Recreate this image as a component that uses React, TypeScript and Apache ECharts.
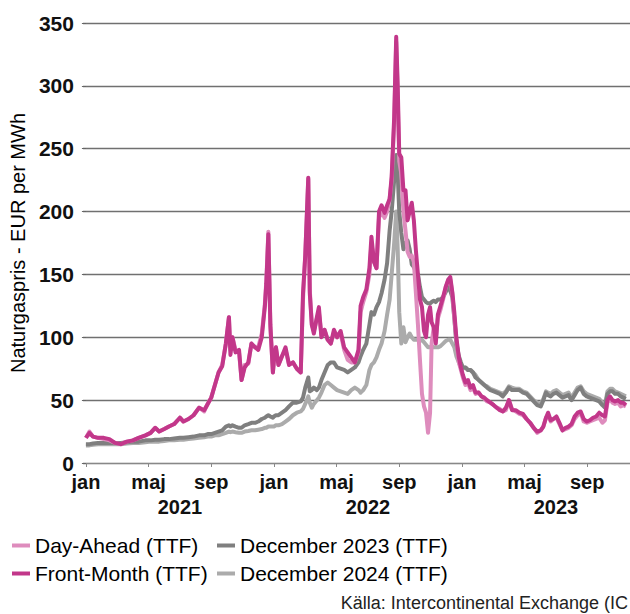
import React, { useEffect, useRef } from "react";
import * as echarts from "echarts";

// Observation dates (shared by all four series)
const dates: string[] = [
  // 2021
  "2021-01-01","2021-01-08","2021-01-15","2021-01-25","2021-02-05","2021-02-15","2021-02-25","2021-03-08","2021-03-20","2021-04-01",
  "2021-04-12","2021-04-25","2021-05-05","2021-05-14","2021-05-22","2021-06-01","2021-06-10","2021-06-20","2021-07-01","2021-07-08",
  "2021-07-18","2021-07-28","2021-08-08","2021-08-18","2021-08-25","2021-09-01","2021-09-08","2021-09-15","2021-09-22","2021-09-29",
  "2021-10-05","2021-10-08","2021-10-12","2021-10-18","2021-10-25","2021-10-30","2021-11-05","2021-11-12","2021-11-18","2021-11-25",
  "2021-12-01","2021-12-08","2021-12-14","2021-12-17","2021-12-21","2021-12-25","2021-12-30",
  // 2022
  "2022-01-01","2022-01-05","2022-01-10","2022-01-17","2022-01-24","2022-01-31","2022-02-07","2022-02-14","2022-02-21","2022-02-25",
  "2022-03-01","2022-03-07","2022-03-10","2022-03-14","2022-03-18","2022-03-24","2022-03-28","2022-04-02","2022-04-08","2022-04-14",
  "2022-04-20","2022-04-26","2022-05-02","2022-05-09","2022-05-16","2022-05-23","2022-05-30","2022-06-06","2022-06-13","2022-06-17",
  "2022-06-22","2022-06-28","2022-07-04","2022-07-08","2022-07-13","2022-07-18","2022-07-23","2022-07-28","2022-08-03","2022-08-08",
  "2022-08-13","2022-08-17","2022-08-22","2022-08-26","2022-08-29","2022-09-01","2022-09-05","2022-09-09","2022-09-13","2022-09-17",
  "2022-09-21","2022-09-25","2022-09-29","2022-10-03","2022-10-07","2022-10-11","2022-10-15","2022-10-19","2022-10-23","2022-10-27",
  "2022-10-31","2022-11-03","2022-11-07","2022-11-11","2022-11-15","2022-11-20","2022-11-25","2022-11-30","2022-12-05","2022-12-09",
  "2022-12-13","2022-12-17","2022-12-21","2022-12-26","2022-12-30",
  // 2023
  "2023-01-03","2023-01-08","2023-01-13","2023-01-18","2023-01-23","2023-01-28","2023-02-03","2023-02-08","2023-02-13","2023-02-18",
  "2023-02-24","2023-03-02","2023-03-08","2023-03-14","2023-03-20","2023-03-26","2023-04-01","2023-04-07","2023-04-14","2023-04-21",
  "2023-04-28","2023-05-05","2023-05-12","2023-05-19","2023-05-26","2023-06-02","2023-06-07","2023-06-12","2023-06-16","2023-06-21",
  "2023-06-26","2023-07-02","2023-07-08","2023-07-14","2023-07-20","2023-07-26","2023-08-01","2023-08-07","2023-08-13","2023-08-19",
  "2023-08-25","2023-08-31","2023-09-06","2023-09-12","2023-09-18","2023-09-24","2023-09-30","2023-10-05","2023-10-10","2023-10-15",
  "2023-10-20","2023-10-25","2023-10-31","2023-11-05","2023-11-10","2023-11-15",
];

// Front-Month (TTF)
const frontMonth: number[] = [
  20,24,21,20,20,19,16,15,17,18,
  20,22,24,28,25,27,29,31,36,33,
  35,38,44,42,47,52,62,72,77,95,
  116,86,100,88,90,66,76,80,95,92,
  90,100,124,143,182,110,72,
  82,92,78,85,92,78,80,75,72,135,
  165,227,135,110,103,116,124,100,106,98,
  95,106,100,105,92,88,84,80,90,125,
  132,138,155,180,160,155,200,205,199,205,
  210,228,275,339,300,246,243,217,217,193,
  200,207,193,169,150,130,124,105,100,118,
  124,112,108,95,118,125,132,140,146,148,
  136,120,100,84,76,
  70,64,66,60,62,56,56,53,52,50,
  48,46,44,42,41,44,50,42,42,40,
  39,35,32,28,25,26,29,36,40,34,
  35,37,32,26,28,29,31,37,40,41,
  35,33,34,36,37,40,38,37,50,53,
  50,49,50,48,48,46,
];

// Day-Ahead (TTF)
const dayAhead: number[] = [
  20,25,21,20,19,18,16,15,17,18,
  20,22,24,28,25,27,29,31,36,33,
  35,38,44,41,47,52,62,72,78,95,
  116,90,100,90,88,66,78,79,95,92,
  92,103,126,145,184,108,72,
  80,92,78,85,90,78,80,75,72,130,
  165,226,138,110,105,115,120,102,106,98,
  95,104,100,103,90,82,80,80,88,120,
  128,136,150,175,160,155,195,200,195,200,
  210,225,270,335,290,240,230,200,185,168,
  164,165,160,135,110,82,55,45,40,24,
  40,95,108,98,115,122,130,140,145,146,
  135,115,98,80,74,
  68,62,64,58,60,55,56,53,51,49,
  48,46,44,43,41,42,50,43,41,39,
  38,35,32,28,24,26,29,36,38,33,
  35,36,31,26,27,28,30,35,38,40,
  33,32,33,34,35,36,32,34,48,51,
  48,47,48,45,46,45,
];

// December 2023 (TTF)
const dec2023: number[] = [
  15,15,15.5,16,16,16,16,16,16.5,17,
  17,18,18,18.5,18.5,19,19,19.5,20,20,
  20.5,21,22,22,23,23,24,25,26,29,
  30,29,30,29,28,28,30,31,32,32,
  33,35,36,37,38,37,36,
  37,38,38,40,42,45,48,48,49,52,
  60,68,57,58,60,58,60,66,72,78,
  80,80,76,75,74,72,74,76,80,85,
  90,95,110,120,118,124,128,135,146,159,
  185,200,225,245,230,200,183,170,175,177,
  170,158,156,152,150,140,132,130,128,127,
  127,128,129,128,130,130,132,136,140,137,
  132,115,95,85,80,
  76,76,74,74,72,68,66,64,62,60,
  58,57,56,55,53,56,60,58,58,58,
  56,55,52,49,46,45,50,56,54,53,
  55,56,54,52,53,54,50,54,58,60,
  55,53,52,51,50,49,46,44,55,57,
  57,55,55,53,52,51,
];

// December 2024 (TTF)
const dec2024: number[] = [
  14,14,14.5,15,15,15,15,15,15.5,16,
  16,16.5,17,17,17,17.5,18,18,18.5,18.5,
  19,19.5,20,20.5,21,21,22,22,23,24,
  25,24.5,25,24.5,24,24,25,25.5,26,26,
  26.5,27,28,28,29,29,29,
  29,30,30,31,33,35,38,40,41,43,
  47,53,48,44,47,50,52,56,62,64,
  62,60,58,57,56,55,58,60,58,56,
  58,62,74,78,80,84,90,95,105,118,
  130,150,175,200,170,120,95,108,96,100,
  103,100,98,98,98,97,98,96,94,92,
  92,93,92,92,92,93,95,97,98,98,
  95,92,85,80,76,
  75,76,74,74,72,70,66,64,62,61,
  59,58,57,56,55,57,61,60,59,59,
  57,56,53,50,48,47,51,57,56,55,
  57,58,56,54,55,56,52,56,60,61,
  57,55,54,53,52,51,48,46,57,59,
  59,57,56,55,54,53,
];

const monthNames = ["jan","feb","mar","apr","maj","jun","jul","aug","sep","okt","nov","dec"];
const monthTicks = [0, 4, 8, 12, 16, 20, 24, 28, 32];
const yearCenters = [6, 18, 30];
const startYear = 2021;
const yTicks = { min: 0, max: 350, interval: 50 };

const seriesNames = {
  da: "Day-Ahead (TTF)",
  fm: "Front-Month (TTF)",
  d23: "December 2023 (TTF)",
  d24: "December 2024 (TTF)",
};

const sourceText = "Källa: Intercontinental Exchange (IC";

const FONT = '"Liberation Sans", Arial, sans-serif';

function monthOffset(d: string): number {
  const [y, m, day] = d.split("-").map(Number);
  const dim = new Date(y, m, 0).getDate();
  return (y - startYear) * 12 + (m - 1) + (day - 1) / dim;
}

function pairs(values: number[]): [number, number][] {
  return dates.map((d, i) => [monthOffset(d), values[i]]);
}

export default function App() {
  const ref = useRef<HTMLDivElement>(null);

  useEffect(() => {
    document.body.style.margin = "0";
    if (!ref.current) return;
    const chart = echarts.init(ref.current, undefined, { renderer: "svg" });

    const xMin = -0.19;
    const xMax = 34.73;

    const lineSeries = (name: string, values: number[], color: string, width: number) => ({
      name,
      type: "line",
      data: pairs(values),
      showSymbol: false,
      symbol: "none",
      xAxisIndex: 0,
      lineStyle: { color, width, join: "round" },
      itemStyle: { color },
    });

    const legendBase = {
      orient: "vertical",
      top: 535,
      padding: 0,
      itemWidth: 18,
      itemHeight: 4,
      itemGap: 7,
      itemTextGap: 2,
      icon: "rect",
      textStyle: { fontSize: 21, color: "#000", fontFamily: FONT, lineHeight: 21 },
      selectedMode: false,
    };

    chart.setOption({
      animation: false,
      backgroundColor: "#fff",
      textStyle: { fontFamily: FONT },
      grid: { left: 80, right: 0, top: 23, bottom: 151, containLabel: false },
      xAxis: [
        {
          type: "value",
          min: xMin,
          max: xMax,
          position: "bottom",
          axisLine: { show: true, lineStyle: { color: "#888", width: 1 } },
          axisTick: { show: true, customValues: monthTicks, length: 4, lineStyle: { color: "#888" } },
          axisLabel: {
            customValues: monthTicks,
            formatter: (v: number) => monthNames[Math.round(v) % 12],
            fontSize: 20,
            fontWeight: "bold",
            color: "#111",
            margin: 9,
            fontFamily: FONT,
          },
          splitLine: { show: false },
        },
        {
          type: "value",
          min: xMin,
          max: xMax,
          position: "bottom",
          axisLine: { show: false },
          axisTick: { show: false },
          axisLabel: {
            customValues: yearCenters,
            formatter: (v: number) => String(startYear + Math.floor(v / 12)),
            fontSize: 20,
            fontWeight: "bold",
            color: "#111",
            margin: 34,
            fontFamily: FONT,
          },
          splitLine: { show: false },
        },
      ],
      yAxis: {
        type: "value",
        min: yTicks.min,
        max: yTicks.max,
        interval: yTicks.interval,
        name: "Naturgaspris - EUR per MWh",
        nameLocation: "middle",
        nameGap: 52,
        nameTextStyle: { fontSize: 20, color: "#000", fontFamily: FONT },
        axisLine: { show: false },
        axisTick: { show: true, length: 4, lineStyle: { color: "#666" } },
        axisLabel: { fontSize: 21, fontWeight: "bold", color: "#111", margin: 9, fontFamily: FONT },
        splitLine: { show: true, lineStyle: { color: "#707070", width: 1.3 } },
      },
      legend: [
        { ...legendBase, left: 12, data: [seriesNames.da, seriesNames.fm] },
        { ...legendBase, left: 217, data: [seriesNames.d23, seriesNames.d24] },
      ],
      graphic: [
        {
          type: "text",
          right: 2,
          top: 594,
          style: {
            text: sourceText,
            fontSize: 18,
            fill: "#222",
            fontFamily: FONT,
          },
        },
      ],
      series: [
        lineSeries(seriesNames.d24, dec2024, "#ababab", 4),
        lineSeries(seriesNames.d23, dec2023, "#7f7f7f", 4),
        lineSeries(seriesNames.da, dayAhead, "#de8cbd", 4),
        lineSeries(seriesNames.fm, frontMonth, "#c2378a", 4),
      ],
    });

    return () => chart.dispose();
  }, []);

  return <div ref={ref} style={{ width: 630, height: 614, overflow: "hidden" }} />;
}
